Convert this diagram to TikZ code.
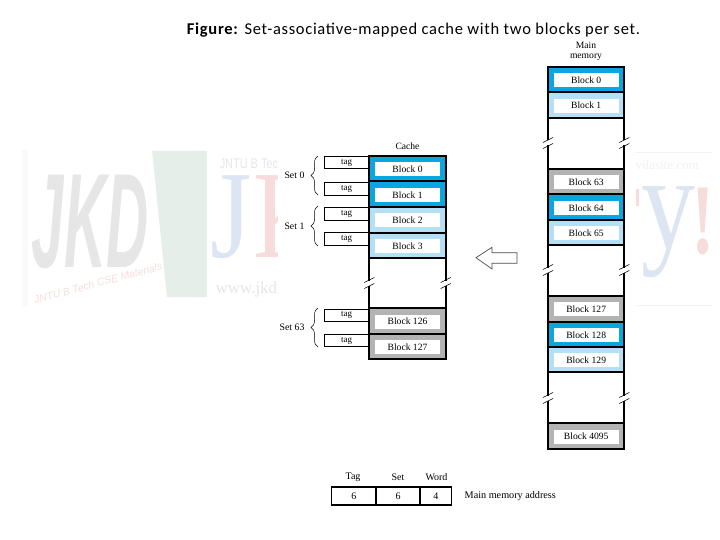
\documentclass[tikz,border=0pt]{standalone}
\usepackage{fontspec}
\setmainfont{Liberation Serif}
\newfontfamily\titlefont[LetterSpace=4.2]{Carlito}
\newfontfamily\markfont{Liberation Sans}
\usetikzlibrary{positioning,calc,decorations.pathreplacing}
\definecolor{setblue}{HTML}{0BA5DF}
\definecolor{setpale}{HTML}{B4DFF4}
\definecolor{setgray}{HTML}{B3B3B3}
\definecolor{markgray}{HTML}{E6E6E6}
\definecolor{markblue}{HTML}{DCE5F1}
\definecolor{markred}{HTML}{F6DCDA}
\definecolor{markgreen}{HTML}{E6EEE9}

\begin{document}
\begin{tikzpicture}[x=1pt,y=-1pt,
 slot/.style={draw=black,line width=2pt,minimum width=76.3pt,inner sep=0pt,outer sep=0pt},
 blockname/.style={fill=white,minimum width=65pt,minimum height=14pt,inner sep=0pt,yshift=-.7pt,font=\fontsize{9.6}{10}\selectfont},
 tagbox/.style={draw=black,line width=.7pt,minimum width=44.5pt,minimum height=12.5pt,inner sep=0pt,font=\fontsize{9}{10}\selectfont},
 setname/.style={anchor=east,font=\fontsize{9.8}{10}\selectfont},
 wall/.style={draw=black,line width=2pt},
 cut/.style={draw=black,line width=.6pt},
 field/.style={draw=black,line width=1.7pt,minimum height=18pt,inner sep=0pt,outer sep=0pt,font=\fontsize{10}{10}\selectfont},
 caption/.style={font=\fontsize{9.6}{10}\selectfont},
 setbrace/.style={draw=black,line width=.5pt,decorate,decoration={brace,amplitude=7pt}}]
\useasboundingbox (0,0) rectangle (720,540);

% Faint watermark behind the figure.
\begin{scope}
\clip (22,150) rectangle (277,307);
\fill[markgreen] (152,151)--(207,151)--(207,297)--(167,297)--cycle;
\fill[markgray!20] (22,150) rectangle (28,307);
\node[font=\markfont\bfseries\itshape\fontsize{112}{112}\selectfont,text=markgray,xscale=.52,yscale=1.2,transform shape] (wmjkd) at (90,222) {JKD};
\node[font=\markfont\itshape\fontsize{10.5}{12}\selectfont,text=markred!80!markgray,rotate=15] (wmjntu) at (98,283) {JNTU B Tech CSE Materials};
\fill[white] (207,150) rectangle (212,307);
\node[font=\fontsize{125}{125}\selectfont,text=markblue,xscale=.85,transform shape] (wmj) at (231,217) {J};
\node[font=\fontsize{125}{125}\selectfont,text=markred,anchor=west,xscale=.85,transform shape] (wmk) at (250,217) {K};
\node[font=\markfont\fontsize{14}{15}\selectfont,text=markgray,anchor=west,xscale=.78,transform shape] (wmtech) at (217,163) {JNTU B Tech};
\node[font=\fontsize{17}{20}\selectfont,text=markgray,anchor=west] (wmweb) at (212,289) {www.jkdirect};
\end{scope}
\begin{scope}
\clip (635,150) rectangle (715,307);
\draw[markgray!50] (635,152)--(712,152); \draw[markgray!50] (635,305)--(712,305);
\fill[markred] (636,189) rectangle (639,206);
\node[font=\fontsize{13}{14}\selectfont,text=markgray!60,anchor=west] (wmsite) at (632,165) {vilasite.com};
\node[font=\fontsize{135}{135}\selectfont,text=markblue,xscale=.8,transform shape] (wmy) at (668,232) {y};
\node[font=\bfseries\fontsize{100}{100}\selectfont,text=markred,xscale=.7,transform shape] (wmbang) at (703,221) {!};
\end{scope}

\node[font=\titlefont\fontsize{16.5}{18}\selectfont] (title) at (413.5,30) {\textbf{Figure:} Set-associative-mapped cache with two blocks per set.};

% Cache
\node[caption] (cachelabel) at (407.5,146) {Cache};
\foreach \name/\y/\h/\col/\txt in {c0/168.8/25.4/setblue/Block 0,c1/194.2/25.4/setblue/Block 1,c2/219.8/25.8/setpale/Block 2,c3/245.2/25/setpale/Block 3,c126/321/26/setgray/Block 126,c127/346.5/25/setgray/Block 127}
 {\node[slot,fill=\col,minimum height=\h pt] (\name) at (407.5,\y) {};
  \node[blockname] (\name text) at (\name) {\txt};}

\foreach \name/\y/\txt in {t0/162.6/tag,t1/188.8/tag,t2/213.8/tag,t3/238.8/tag,t126/315.3/tag,t127/340.5/tag}
 \node[tagbox] (\name) at (346.7,\y) {\txt};

% Set braces and their names
\draw[setbrace] (318,195)--(318,156) node[midway,left=10pt,setname] (set0) {Set 0};
\draw[setbrace] (318,246)--(318,206) node[midway,left=10pt,setname] (set1) {Set 1};
\draw[setbrace] (318,347)--(318,308) node[midway,left=10pt,setname] (set63) {Set 63};

\draw[wall] (c3.south west)--(c126.north west); \draw[wall] (c3.south east)--(c126.north east);

% Main memory
\node[align=center,font=\fontsize{9.6}{10}\selectfont] (memlabel) at (586,51.5) {Main\\memory};
\foreach \name/\y/\h/\col/\txt in {m0/79.8/25/setblue/Block 0,m1/105/25.4/setpale/Block 1,m63/181.6/25.3/setgray/Block 63,m64/207.2/25.7/setblue/Block 64,m65/232.5/25/setpale/Block 65,m127/308.7/26/setgray/Block 127,m128/334.3/25.3/setblue/Block 128,m129/359.7/25.3/setpale/Block 129,m4095/435.8/26.3/setgray/Block 4095}
 {\node[slot,fill=\col,minimum height=\h pt] (\name) at (586.2,\y) {};
  \node[blockname] (\name text) at (\name) {\txt};}
\draw[wall] (m1.south west)--(m63.north west); \draw[wall] (m1.south east)--(m63.north east);
\draw[wall] (m65.south west)--(m127.north west); \draw[wall] (m65.south east)--(m127.north east);
\draw[wall] (m129.south west)--(m4095.north west); \draw[wall] (m129.south east)--(m4095.north east);

% Breaks in the side walls
\foreach \x/\y in {369.3/283,445.7/283,548/143,624.3/143,548/270,624.3/270,548/398,624.3/398}
 {\fill[white] (\x-2,\y-2.5) rectangle (\x+2,\y+2.5);
  \draw[cut] (\x-5,\y-.5)--(\x+5,\y-5.5);
  \draw[cut] (\x-5,\y+5.5)--(\x+5,\y+.5);}

% Hollow arrow
\draw[draw=black!70,line width=.7pt,fill=white] (476,257.7)--(492,247.3)--(492,252.7)--(517,252.7)--(517,263.3)--(492,263.3)--(492,269)--cycle;

% Address fields
\node[field,minimum width=44.5pt] (ftag) at (353.75,496.2) {6};
\node[field,minimum width=44pt,right=0pt of ftag] (fset) {6};
\node[field,minimum width=31.5pt,right=0pt of fset] (fword) {4};
\node[font=\fontsize{10}{10}\selectfont] (ltag) at (353,477.5) {Tag};
\node[font=\fontsize{10}{10}\selectfont] (lset) at (398,477.5) {Set};
\node[font=\fontsize{10}{10}\selectfont] (lword) at (436.5,477.5) {Word};
\node[anchor=west,inner sep=0pt,font=\fontsize{10.2}{10}\selectfont] (addr) at (464.5,496.5) {Main memory address};
\end{tikzpicture}
\end{document}
